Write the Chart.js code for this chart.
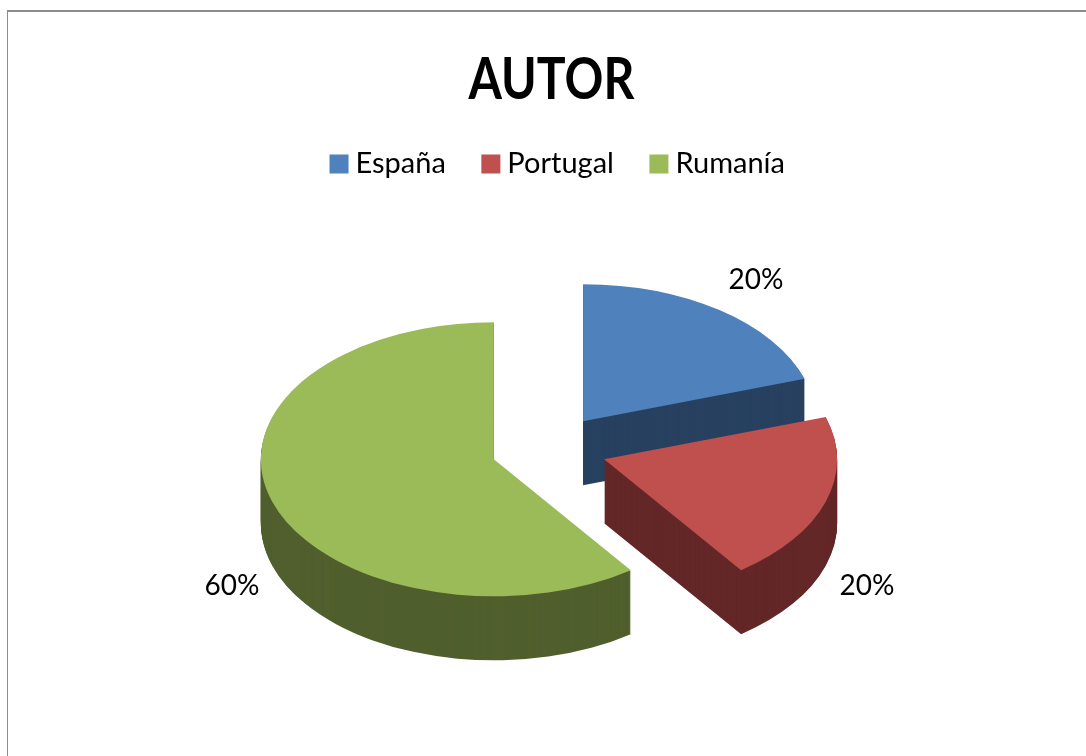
<!DOCTYPE html>
<html lang="es">
<head>
<meta charset="UTF-8">
<title>AUTOR</title>
<script src="https://cdn.jsdelivr.net/npm/chart.js"></script>
<style>
    html, body { margin: 0; padding: 0; background: #fff; overflow: hidden; }
    #marco { position: absolute; left: 7px; top: 10px; right: -5px; bottom: -5px; border: 1px solid #8c8c8c; border-width: 2px 0 0 1px; }
    canvas { position: absolute; left: 0; top: 0; }
</style>
</head>
<body>
<div id="marco"></div>
<canvas id="grafico" width="1086" height="756"></canvas>
<script>
    const categorias = ['España', 'Portugal', 'Rumanía'];
    const valores = [20, 20, 60];
    const colores = ['#4F81BD', '#C0504D', '#9BBB59'];
    const coloresLado = ['#284160', '#632727', '#505F2D'];

    // el offset de Chart.js agranda los sectores grandes, asi que separo a mano
    const separacion = 58;
    const aplastado = 0.588;
    const grosor = 64;
    // donde cae cada porcentaje respecto al centro del pastel
    const etiquetaDx = [207, 318, -317];
    const etiquetaDy = [-169, 137, 137];

    const pastel3d = {
        id: 'pastel3d',
        afterLayout(chart) {
            // la leyenda va algo a la derecha y mas pegada al titulo
            chart.legend.left += 12;
            chart.legend.right += 12;
            chart.legend.top -= 8;
            chart.legend.bottom -= 8;

            // titulo estrecho, como la fuente original
            const titulo = chart.titleBlock;
            if (!titulo.dibujarOriginal) {
                titulo.dibujarOriginal = titulo.draw;
                titulo.draw = function () {
                    const ctx = chart.ctx;
                    ctx.save();
                    ctx.translate(551.5, 0);
                    ctx.scale(0.83, 1);
                    ctx.translate(-549, 0);
                    titulo.dibujarOriginal();
                    ctx.restore();
                };
            }
        },
        beforeDatasetsDraw(chart) {
            const ctx = chart.ctx;
            const arcos = chart.getDatasetMeta(0).data;
            const cx = arcos[0].x;
            const cy = arcos[0].y;
            const total = valores.reduce((a, b) => a + b, 0);

            // de atrás hacia delante: azul, verde, rojo
            [0, 2, 1].forEach(i => {
                const arco = arcos[i];
                const original = arco.options;
                const medio = (arco.startAngle + arco.endAngle) / 2;
                arco.options = Object.assign(Object.create(original), { backgroundColor: coloresLado[i] });
                for (let d = grosor; d >= 0; d--) {
                    if (d == 0) arco.options = original;
                    ctx.save();
                    ctx.translate(0, cy + d);
                    ctx.scale(1, aplastado);
                    ctx.translate(Math.cos(medio) * separacion, Math.sin(medio) * separacion - cy);
                    arco.draw(ctx);
                    ctx.restore();
                }
            });

            ctx.save();
            ctx.fillStyle = '#000';
            ctx.font = '28px Lato';
            ctx.textAlign = 'center';
            ctx.textBaseline = 'middle';
            arcos.forEach((arco, i) => {
                ctx.fillText(Math.round(valores[i] / total * 100) + '%', cx + etiquetaDx[i], cy + etiquetaDy[i]);
            });
            ctx.restore();
            return false;
        }
    };

    new Chart(document.getElementById('grafico'), {
        type: 'pie',
        data: {
            labels: categorias,
            datasets: [{
                data: valores,
                backgroundColor: colores,
                borderWidth: 0
            }]
        },
        plugins: [pastel3d],
        options: {
            responsive: false,
            animation: false,
            radius: 233,
            layout: { padding: { left: 12, top: 45, bottom: 55 } },
            plugins: {
                tooltip: { enabled: false },
                title: {
                    display: true,
                    text: 'AUTOR',
                    color: '#000',
                    font: { family: 'Lato', size: 58, weight: 'bold' },
                    padding: { top: 0, bottom: 0 }
                },
                legend: {
                    position: 'top',
                    labels: {
                        color: '#000',
                        font: { family: 'Lato', size: 29 },
                        usePointStyle: true,
                        pointStyle: 'rect',
                        boxWidth: 4,
                        boxHeight: 19,
                        padding: 43
                    }
                }
            }
        }
    });
</script>
</body>
</html>
